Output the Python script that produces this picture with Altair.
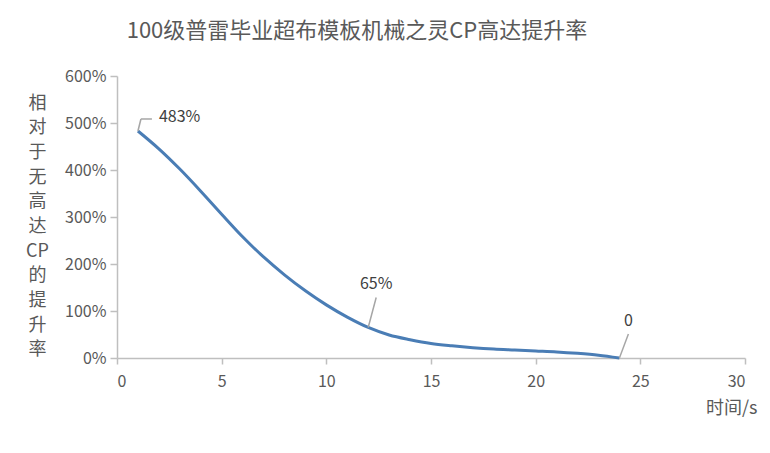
import altair as alt
import pandas as pd

# 数据
seconds = [1, 2, 3, 4, 5, 6, 7, 8, 9, 10, 11, 12,
           13, 14, 15, 16, 17, 18, 19, 20, 21, 22, 23, 24]
boost_pct = [483, 445, 402, 355, 306, 258, 215, 177, 143, 113, 87, 65,
             49, 39, 31, 26, 22, 19, 17, 15, 13, 10, 6, 0]

note_x = [1, 12, 24]
note_pct = [483, 65, 0]
note_text = ['483%', '65%', '0']

FONT = 'Noto Sans CJK SC'
GREY = '#595959'

df = pd.DataFrame({'t': seconds, 'v': [p / 100 for p in boost_pct]})
notes = pd.DataFrame({'t': note_x, 'v': [p / 100 for p in note_pct], 'label': note_text})

x_enc = alt.X('t:Q', scale=alt.Scale(domain=[0, 30], nice=False),
              axis=alt.Axis(values=[0, 5, 10, 15, 20, 25, 30], format='d', grid=False,
                            tickSize=6, labelPadding=9, title='时间/s',
                            titleX=640, titleY=50, titleAngle=0, titleAlign='right',
                            titleBaseline='middle', titleFontSize=18))
y_enc = alt.Y('v:Q', scale=alt.Scale(domain=[0, 6], nice=False),
              axis=alt.Axis(values=[0, 1, 2, 3, 4, 5, 6], format='.0%', grid=False,
                            tickSize=7, labelPadding=4,
                            title=list('相对于无高达') + ['CP'] + list('的提升率'),
                            titleX=-80, titleY=27, titleAngle=0, titleAlign='center',
                            titleBaseline='middle', titleLineHeight=24.7, titleFontSize=18))

line = alt.Chart(df).mark_line(interpolate='monotone', color='#4a7db5', strokeWidth=3).encode(
    x=x_enc, y=y_enc
)

# 标注：引导线 + 文字，每个标注的偏移不同
offsets = {'483%': (21, -14), '65%': (8, -43), '0': (9, -37)}
layers = [line]
for lab, (dx, dy) in offsets.items():
    base = alt.Chart(notes).transform_filter(alt.datum.label == lab)
    if lab == '483%':
        lead = base.mark_rule(color='#a6a6a6', strokeWidth=1.5, x2Offset=3, y2Offset=-12).encode(
            x='t:Q', y='v:Q', x2='t:Q', y2='v:Q')
        lead2 = base.mark_rule(color='#a6a6a6', strokeWidth=1.5, xOffset=3, yOffset=-12,
                               x2Offset=14, y2Offset=-12).encode(
            x='t:Q', y='v:Q', x2='t:Q', y2='v:Q')
        txt = base.mark_text(align='left', baseline='middle', dx=dx, dy=dy,
                             font=FONT, fontSize=16, color='#404040').encode(
            x='t:Q', y='v:Q', text='label:N')
        layers += [lead, lead2, txt]
    else:
        lead = base.mark_rule(color='#a6a6a6', strokeWidth=1.5, x2Offset=dx, y2Offset=dy + 13).encode(
            x='t:Q', y='v:Q', x2='t:Q', y2='v:Q')
        txt = base.mark_text(align='center', baseline='middle', dx=dx, dy=dy,
                             font=FONT, fontSize=16, color='#404040').encode(
            x='t:Q', y='v:Q', text='label:N')
        layers += [lead, txt]

chart = alt.layer(*layers).properties(
    width=628, height=282,
    background='white',
    autosize=alt.AutoSizeParams(type='none'),
    padding={'left': 109, 'top': 68, 'right': 17, 'bottom': 87},
    title=alt.TitleParams('100级普雷毕业超布模板机械之灵CP高达提升率', anchor='middle',
                          dx=-74, offset=25, fontSize=22, fontWeight='normal',
                          font=FONT, color=GREY),
).configure_view(stroke=None).configure_axis(
    labelFont=FONT, titleFont=FONT, labelFontSize=16, labelColor=GREY,
    titleColor=GREY, titleFontWeight='normal', domainColor='#bfbfbf',
    tickColor='#bfbfbf', domainWidth=1.5, tickWidth=1.5
)

chart.save('out.html', embed_options={'renderer': 'svg', 'actions': False})
